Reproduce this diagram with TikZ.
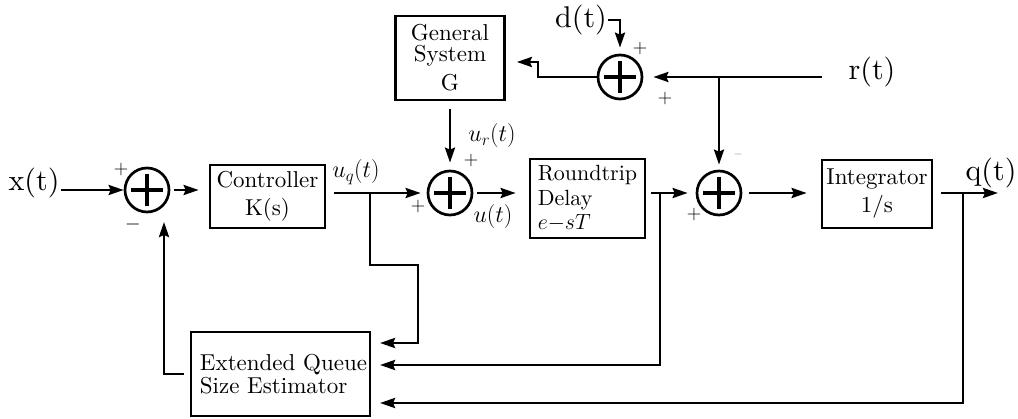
\RequirePackage{fix-cm}
\documentclass[tikz,border=0pt]{standalone}
\usepackage{fontspec}
\setmainfont{lmroman10-regular.otf}[ItalicFont=lmroman10-italic.otf, BoldFont=lmroman10-bold.otf]
\usetikzlibrary{arrows.meta}
\begin{document}
\begin{tikzpicture}[x=1pt,y=-1pt,
  line width=2.7pt,
  arr/.style={-{Stealth[length=15pt,width=10pt,inset=2pt]}},
  blk/.style={draw, line width=2.7pt, inner sep=0pt, align=center, font=\fontsize{23}{23}\selectfont},
  sum/.style={circle, draw, line width=2.7pt, minimum size=44pt, inner sep=0pt,
    path picture={\draw[line width=3.2pt] ([xshift=-16pt]path picture bounding box.center) -- ([xshift=16pt]path picture bounding box.center);
                  \draw[line width=3.2pt] ([yshift=-16pt]path picture bounding box.center) -- ([yshift=16pt]path picture bounding box.center);}},
  sig/.style={inner sep=0pt, font=\fontsize{30}{30}\selectfont},
  lab/.style={inner sep=0pt, font=\fontsize{24}{24}\selectfont},
  sgn/.style={inner sep=0pt, font=\fontsize{20}{20}\selectfont},
]
\useasboundingbox (0,0) rectangle (1018,419);

% blocks
\node[blk, minimum width=115pt, minimum height=63pt] (ctrl) at (267.5,196.5) {Controller\\[5pt]K(s)};
\node[blk, minimum width=109pt, minimum height=84pt, font=\fontsize{23}{21}\selectfont] (G) at (450,58) {General\\System\\[8pt]G};
\node[blk, minimum width=115pt, minimum height=79pt, align=left, font=\fontsize{22}{24.5}\selectfont] (rtd) at (587.5,198.5) {Roundtrip\\Delay\\$e{-}sT$};
\node[blk, minimum width=110pt, minimum height=68pt] (integ) at (877,194) {Integrator\\[5pt]1/s};
\node[blk, minimum width=179pt, minimum height=84pt, align=left] (est) at (280.5,374) {\hspace*{6pt}Extended Queue\\\hspace*{6pt}Size Estimator};

% summing junctions
\node[sum] (s1) at (147,190) {};
\node[sum] (s2) at (450,193) {};
\node[sum] (s3) at (719,193) {};
\node[sum] (s4) at (620,77) {};

% signals
\node[sig] (xt) at (34,183) {x(t)};
\node[sig] (dt) at (581,20) {d(t)};
\node[sig] (rt) at (872,72) {r(t)};
\node[sig] (qt) at (991,173) {q(t)};

% helper coordinates
\coordinate (b1) at (370,193);
\coordinate (j1) at (418,265);
\coordinate (e1) at (370,343);
\coordinate (e2) at (370,365);
\coordinate (e3) at (370,403);
\coordinate (b2) at (660,193);
\coordinate (b3) at (719,77);
\coordinate (b4) at (963,193);
\coordinate (qend) at (998,193);
\coordinate (rs) at (822,77);
\coordinate (g2) at (538,62);
\coordinate (f2) at (164,222);

% connectors
\draw[arr] (xt.east |- s1.west) -- (s1.west);
\draw[arr, shorten <=4pt, shorten >=10pt] (s1.east) -- (s1.east -| ctrl.west);
\draw[arr, shorten <=8pt, shorten >=6pt] (ctrl.east |- s2.west) -- (s2.west);
\draw[arr, shorten <=4pt, shorten >=13pt] (s2.east) -- (s2.east -| rtd.west);
\draw[arr, shorten <=5pt, shorten >=8pt] (rtd.east |- s3.west) -- (s3.west);
\draw[arr, shorten <=7pt, shorten >=14pt] (s3.east) -- (s3.east -| integ.west);
\draw[arr, shorten <=8pt] (integ.east |- qend) -- (qend);
\draw[arr, shorten >=10pt] (b1) |- (j1) |- (e1);
\draw[arr, shorten >=10pt] (b2) |- (e2);
\draw[arr, shorten >=10pt] (b4) |- (e3);
\draw[arr, shorten <=6pt] (est.west) -| (f2);
\draw[arr, shorten <=8pt, shorten >=7pt] (G.south) -- (s2.north);
\draw[arr, shorten >=10pt] (rs) -- (s4.east);
\draw[arr, shorten >=5pt] (b3) -- (s3.north);
\draw[arr, shorten >=6pt] (dt.east) -| (s4.north);
\draw[arr, shorten >=11pt] (s4.west) -| (g2) -- (g2 -| G.east);

% labels
\node[lab] at (356,172) {$u_q(t)$};
\node[lab] at (492,136) {$u_r(t)$};
\node[lab] at (493,217) {$u(t)$};

% signs
\node[sgn] at (121,170) {$+$};
\node[sgn] at (133,225) {$-$};
\node[sgn] at (471,161) {$+$};
\node[sgn] at (418,207) {$+$};
\node[sgn] at (694,215) {$+$};
\node[sgn, text=gray] at (738,155) {\fontsize{12}{12}\selectfont$-$};
\node[sgn] at (640,49) {$+$};
\node[sgn] at (665,99) {$+$};
\end{tikzpicture}
\end{document}
